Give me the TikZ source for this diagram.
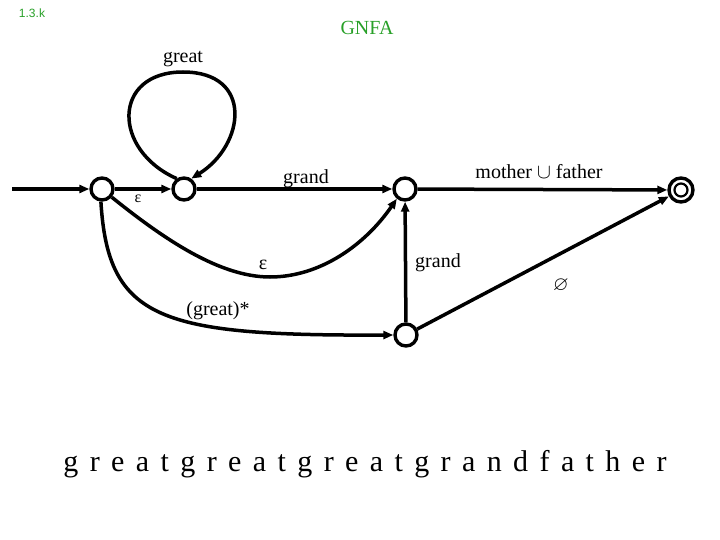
\documentclass[tikz,border=0pt]{standalone}
\usepackage{amssymb}
\usepackage{fontspec}
\setmainfont{Liberation Serif}
\setsansfont{Liberation Sans}
\usetikzlibrary{arrows.meta}
\definecolor{gnfagreen}{RGB}{40,160,40}
\begin{document}
\begin{tikzpicture}[x=1pt,y=-1pt,
  state/.style={circle,draw,line width=3.4pt,minimum size=22pt,inner sep=0pt,fill=white},
  edge/.style={line width=3.5pt,-{Triangle[length=10pt,width=8pt]}},
  lbl/.style={font=\fontsize{20}{23}\selectfont,inner sep=0pt}]
\useasboundingbox (0,0) rectangle (720,540);
\node[font=\sffamily\fontsize{12}{14}\selectfont,text=gnfagreen,inner sep=0pt] (tag) at (32,13) {1.3.k};
\node[font=\fontsize{20}{23}\selectfont,text=gnfagreen,inner sep=0pt] (title) at (367,28) {GNFA};

\coordinate (s) at (12,189);
\node[state] (q0) at (102,189) {};
\node[state] (q1) at (184,189) {};
\node[state] (q2) at (405,189) {};
\node[state] (q4) at (406,335) {};
\node[state,minimum size=24pt] (q3) at (681,190) {};
\node[circle,draw,line width=2.2pt,minimum size=13pt,inner sep=0pt] (q3in) at (q3) {};

\draw[edge] (s) -- (q0);
\draw[edge] (q0) -- (q1);
\draw[edge] (q1) -- (q2);
\draw[edge] (q2) -- (q3);
\draw[edge] (q4) -- (q2);
\draw[edge] (q4) -- (q3);
\draw[edge] (q1.125) .. controls (112,150) and (112,72) .. (183,72)
   .. controls (254,72) and (245,145) .. (q1.55);
\draw[edge] (q0.-40) .. controls (165,240) and (220,277) .. (270,277)
   .. controls (320,277) and (365,245) .. (q2.-130);
\draw[edge] (q0.-95) .. controls (108,320) and (160,336) .. (q4.180);

\node[lbl] (lgreat) at (183,59) {great};
\node[lbl,font=\fontsize{16}{18}\selectfont] (le1) at (138,199) {ε};
\node[lbl] (lgrand1) at (306,179) {grand};
\node[lbl] (lmf) at (539,172) {mother $\cup$ father};
\node[lbl] (le2) at (263,265) {ε};
\node[lbl] (lgrand2) at (438,263) {grand};
\node[lbl] (lgs) at (218,311) {(great)*};
\node[lbl] (lemp) at (561,285) {$\varnothing$};

\node[inner sep=0pt,font=\fontsize{30}{34}\selectfont] (word) at (365,464)
  {\spaceskip=11.4pt\relax g r e a t g r e a t g r e a t g r a n d f a t h e r};
\end{tikzpicture}
\end{document}
